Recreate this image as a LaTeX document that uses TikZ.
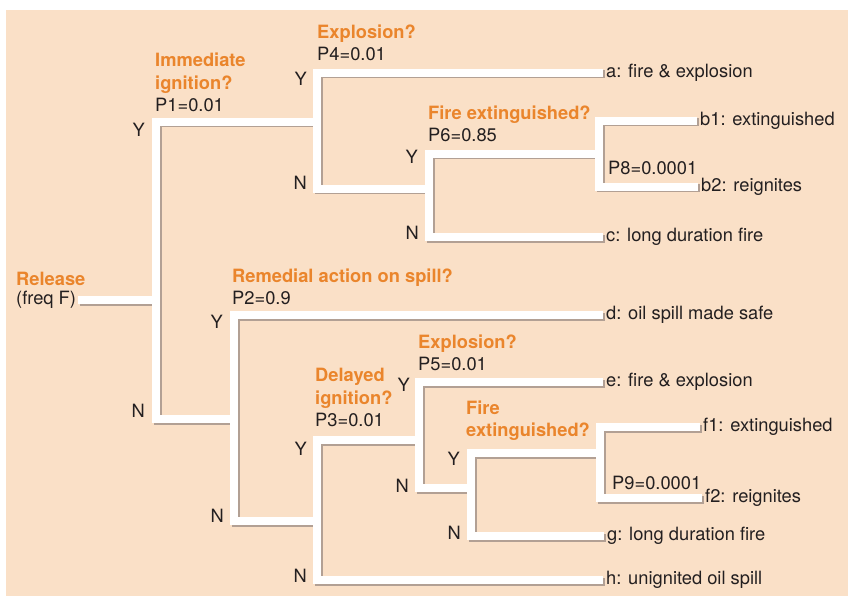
\documentclass[tikz,border=0pt]{standalone}
\usepackage{fontspec}
\setmainfont{TeX Gyre Heros}
\usepackage{xcolor}
\usepackage{tikz}
\usetikzlibrary{positioning,calc}

\definecolor{peach}{RGB}{250,224,199}
\definecolor{qorange}{RGB}{234,133,44}
\definecolor{shadowgrey}{RGB}{178,160,148}
\definecolor{textgrey}{RGB}{35,31,32}

\newcommand\dfont{\fontsize{18.3}{22.3}\selectfont}
\newcommand\qtxt[1]{\textcolor{qorange}{\bfseries #1}}

\tikzset{
    branch/.style={line width=8pt, white},
    branchshadow/.style={line width=8pt, shadowgrey, transform canvas={xshift=1.5pt,yshift=-1.5pt}},
    question/.style={anchor=south west, align=left, inner sep=0pt},
    outcome/.style={anchor=west, inner sep=3pt},
    yes/.style={anchor=north east, inner sep=0pt},
    no/.style={anchor=south east, inner sep=0pt},
    prob/.style={anchor=base west, inner sep=0pt}
}

\begin{document}
\begin{tikzpicture}[x=1pt, y=-1pt, font=\dfont, text=textgrey]
        \useasboundingbox (0,0) rectangle (848,596);
        \fill[peach] (6,10) rectangle (848,596);

        % Start
        \node[outcome, anchor=west, inner sep=2pt] (rel) at (14,300) {(freq F)};
        \node[prob] (release) at (16,285) {\qtxt{Release}};

        % Split points
        \coordinate (s1) at (156,300);
        \coordinate (s4) at (317,122);
        \coordinate (s6) at (429,189);
        \coordinate (s8) at (599,154);
        \coordinate (s2) at (234,419);
        \coordinate (s3) at (317,521);
        \coordinate (s5) at (419,440);
        \coordinate (s7) at (471,488);
        \coordinate (s9) at (600,453);

        % Outcomes
        \node[outcome] (a)  at (603,73)  {a: fire \& explosion};
        \node[outcome] (b1) at (697,121) {b1: extinguished};
        \node[outcome] (b2) at (698,187) {b2: reignites};
        \node[outcome] (c)  at (603,237) {c: long duration fire};
        \node[outcome] (d)  at (603,315) {d: oil spill made safe};
        \node[outcome] (e)  at (603,382) {e: fire \& explosion};
        \node[outcome] (f1) at (700,427) {f1: extinguished};
        \node[outcome] (f2) at (702,498) {f2: reignites};
        \node[outcome] (g)  at (604,536) {g: long duration fire};
        \node[outcome] (h)  at (603,580) {h: unignited oil spill};

        % Branches, shadow first
        \foreach \layer in {branchshadow,branch}{
            \draw[\layer] (rel.east) -- (s1);
            \draw[\layer] (s1) |- (s4);
            \draw[\layer] (s1) |- (s2);
            \draw[\layer] (s4) |- (a.west);
            \draw[\layer] (s4) |- (s6);
            \draw[\layer] (s6) |- (s8);
            \draw[\layer] (s6) |- (c.west);
            \draw[\layer] (s8) |- (b1.west);
            \draw[\layer] (s8) |- (b2.west);
            \draw[\layer] (s2) |- (d.west);
            \draw[\layer] (s2) |- (s3);
            \draw[\layer] (s3) |- (s5);
            \draw[\layer] (s3) |- (h.west);
            \draw[\layer] (s5) |- (e.west);
            \draw[\layer] (s5) |- (s7);
            \draw[\layer] (s7) |- (s9);
            \draw[\layer] (s7) |- (g.west);
            \draw[\layer] (s9) |- (f1.west);
            \draw[\layer] (s9) |- (f2.west);
        }

        % Questions
        \node[question] (q1) at (155,112) {\qtxt{Immediate}\\\qtxt{ignition?}\\P1=0.01};
        \node[question] (q4) at (317,61)  {\qtxt{Explosion?}\\P4=0.01};
        \node[question] (q6) at (428,142) {\qtxt{Fire extinguished?}\\P6=0.85};
        \node[question] (q2) at (232,305) {\qtxt{Remedial action on spill?}\\P2=0.9};
        \node[question] (q3) at (315,427) {\qtxt{Delayed}\\\qtxt{ignition?}\\P3=0.01};
        \node[question] (q5) at (418,371) {\qtxt{Explosion?}\\P5=0.01};
        \node[question] (q7) at (466,441) {\qtxt{Fire}\\\qtxt{extinguished?}};
        \node[prob] (p8) at (608,175) {P8=0.0001};
        \node[prob] (p9) at (612,489) {P9=0.0001};

        % Y / N
        \node[yes] (y1) at (145,123) {Y};
        \node[no]  (n1) at (145,418) {N};
        \node[yes] (y4) at (307,72)  {Y};
        \node[no]  (n4) at (307,190) {N};
        \node[yes] (y6) at (418,150) {Y};
        \node[no]  (n6) at (419,240) {N};
        \node[yes] (y2) at (223,315) {Y};
        \node[no]  (n2) at (224,523) {N};
        \node[yes] (y3) at (307,442) {Y};
        \node[no]  (n3) at (307,583) {N};
        \node[yes] (y5) at (410,378) {Y};
        \node[no]  (n5) at (409,493) {N};
        \node[yes] (y7) at (460,452) {Y};
        \node[no]  (n7) at (461,540) {N};
\end{tikzpicture}
\end{document}
